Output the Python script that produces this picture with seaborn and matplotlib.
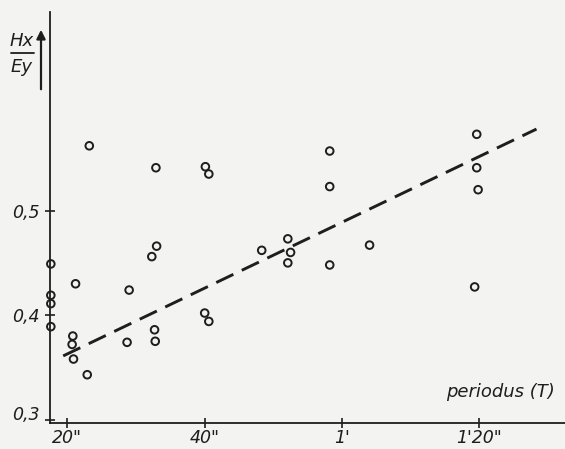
# plot.py - H_x/E_y ratio versus period, scatter with dashed trend line
import pandas as pd
import seaborn as sns
import matplotlib.pyplot as plt
from matplotlib.lines import Line2D
from matplotlib.transforms import ScaledTranslation

# --- Data ---
# period in seconds
period_s = [17.6, 17.6, 17.6, 17.6,
            21.2, 20.8, 20.7, 20.9, 22.9, 23.2,
            29.0, 28.7,
            32.3, 33.0, 32.7, 32.8, 32.9,
            40.1, 40.6, 40.0, 40.6,
            48.3, 52.1, 52.5, 52.1,
            58.2, 58.2, 58.2, 64.0,
            79.6, 79.6, 79.8, 79.3]
ratio = [0.449, 0.419, 0.411, 0.389,
         0.430, 0.380, 0.372, 0.358, 0.343, 0.562,
         0.424, 0.374,
         0.456, 0.466, 0.386, 0.375, 0.541,
         0.542, 0.535, 0.402, 0.394,
         0.462, 0.473, 0.460, 0.450,
         0.448, 0.557, 0.523, 0.467,
         0.573, 0.541, 0.520, 0.427]

# dashed trend line (end points as drawn)
trend_period = [19.4, 88.3]
trend_ratio = [0.361, 0.578]

tick_periods = [20, 40, 60, 80]
tick_period_labels = ['20"', '40"', "1'", "1'20\""]
tick_ratios = [0.3, 0.4, 0.5]
tick_ratio_labels = ["0,3", "0,4", "0,5"]

points = pd.DataFrame({"period": period_s, "ratio": ratio})
trend = pd.DataFrame({"period": trend_period, "ratio": trend_ratio})

# --- Plot ---
ink = "#1e1e1e"
paper = "#f3f3f1"
sns.set_style("ticks")
plt.rcParams["font.family"] = "DejaVu Sans"

fig = plt.figure(figsize=(5.65, 4.49), dpi=100, facecolor=paper)
ax = fig.add_axes([50 / 565, 26.5 / 449, 1 - 50 / 565, 410.5 / 449])
ax.set_facecolor(paper)

sns.lineplot(data=trend, x="period", y="ratio", ax=ax, color=ink,
             linewidth=2.1, linestyle=(0, (6.5, 3.2)))
sns.scatterplot(data=points, x="period", y="ratio", ax=ax,
                marker="o", s=30, facecolor="none", edgecolor=ink,
                linewidth=1.4, clip_on=False, zorder=3)

ax.set_xlim(17.48, 92.45)
ax.set_ylim(0.2973, 0.690)

ax.set_xticks(tick_periods)
ax.set_xticklabels(tick_period_labels, fontsize=12.5, style="italic", color=ink)
ax.set_yticks(tick_ratios)
ax.set_yticklabels(tick_ratio_labels, fontsize=12.5, style="italic", color=ink)
ax.tick_params(direction="inout", length=7, width=1.2, color=ink)
ax.tick_params(axis="x", pad=1)
ax.tick_params(axis="y", pad=4)

# the 0,3 label sits a little above the corner in the original
lab = ax.get_yticklabels()[0]
lab.set_transform(lab.get_transform() + ScaledTranslation(0, 0.07, fig.dpi_scale_trans))

for side in ["top", "right"]:
    ax.spines[side].set_visible(False)
for side in ["left", "bottom"]:
    ax.spines[side].set_color(ink)
    ax.spines[side].set_linewidth(1.3)

ax.set_xlabel("")
ax.set_ylabel("")

# axis titles as in the original lettering
ax.text(0.98, 0.075, "periodus (T)", transform=ax.transAxes, ha="right",
        va="center", fontsize=13, style="italic", color=ink)

fig.text(22 / 565, 1 - 41 / 449, "Hx", ha="center", va="center",
         fontsize=13, style="italic", color=ink)
fig.text(22 / 565, 1 - 67 / 449, "Ey", ha="center", va="center",
         fontsize=13, style="italic", color=ink)
fig.add_artist(Line2D([11 / 565, 34 / 565], [1 - 53 / 449, 1 - 53 / 449],
                      color=ink, linewidth=1.3, transform=fig.transFigure))
ax.annotate("", xy=(41, 449 - 27), xytext=(41, 449 - 92),
            xycoords="figure pixels", textcoords="figure pixels",
            arrowprops=dict(arrowstyle="-|>", color=ink, lw=1.6,
                            mutation_scale=13))

fig.savefig("out.png", dpi=100, facecolor=paper)
plt.close(fig)
